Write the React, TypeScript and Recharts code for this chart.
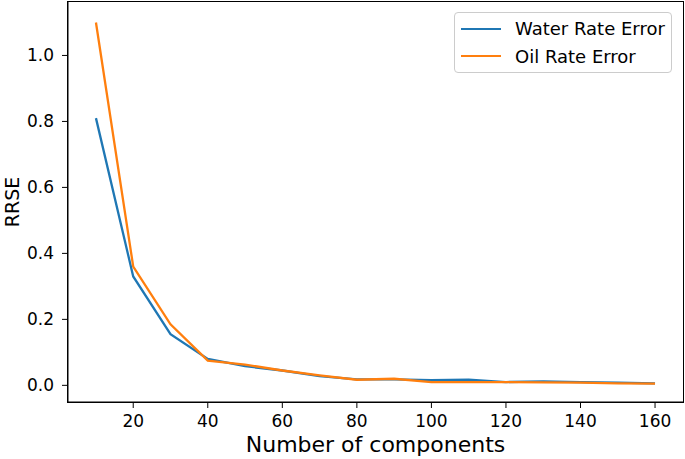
import { LineChart, Line, XAxis, YAxis } from 'recharts'

const components = [10, 20, 30, 40, 50, 60, 70, 80, 90, 100, 110, 120, 130, 140, 150, 160]
const waterRateError = [0.81, 0.33, 0.155, 0.08, 0.058, 0.045, 0.028, 0.018, 0.018, 0.016, 0.017, 0.01, 0.012, 0.01, 0.008, 0.006]
const oilRateError = [1.1, 0.36, 0.185, 0.075, 0.063, 0.045, 0.03, 0.017, 0.02, 0.01, 0.01, 0.01, 0.009, 0.008, 0.006, 0.005]
const xTicks = [20, 40, 60, 80, 100, 120, 140, 160]
const yTicks = [0, 0.2, 0.4, 0.6, 0.8, 1.0]

const series = [
  { key: 'water', name: 'Water Rate Error', color: '#1f77b4' },
  { key: 'oil', name: 'Oil Rate Error', color: '#ff7f0e' },
]

const data = components.map((n, i) => ({ n, water: waterRateError[i], oil: oilRateError[i] }))

const font = 'DejaVu Sans, sans-serif'
const tickStyle = { fill: '#000', fontSize: 17, fontFamily: font }

function YLabel(props: any) {
  const vb = props.viewBox || { y: 0, height: 0 }
  const cy = vb.y + vb.height / 2
  return (
    <text x={12} y={cy} transform={`rotate(-90 12 ${cy})`} textAnchor="middle" dominantBaseline="central" fill="#000" fontSize={19} fontFamily={font}>
      RRSE
    </text>
  )
}

export default function App() {
  return (
    <div style={{ position: 'absolute', left: 0, top: 0, width: 685, height: 459, background: '#fff' }}>
      <LineChart width={685} height={459} data={data} margin={{ top: 2, right: 2, left: 0, bottom: 0 }}>
        <XAxis
          dataKey="n"
          type="number"
          domain={[2.5, 167.5]}
          ticks={xTicks}
          tick={tickStyle}
          tickSize={6}
          tickMargin={7}
          height={57}
          stroke="#000"
          label={{ value: 'Number of components', position: 'insideBottom', offset: 7, style: { fill: '#000', fontSize: 22, fontFamily: font } }}
        />
        <YAxis
          type="number"
          domain={[-0.0505, 1.162]}
          ticks={yTicks}
          tickFormatter={(v: number) => v.toFixed(1)}
          tick={tickStyle}
          tickSize={6}
          tickMargin={8}
          width={68}
          stroke="#000"
          allowDataOverflow
          label={<YLabel />}
        />
        {series.map((s) => (
          <Line
            key={s.key}
            dataKey={s.key}
            name={s.name}
            stroke={s.color}
            strokeWidth={2.3}
            dot={false}
            type="linear"
            isAnimationActive={false}
          />
        ))}
      </LineChart>
      <div
        style={{
          position: 'absolute',
          left: 67,
          top: 1,
          width: 617,
          height: 402,
          border: '1px solid #000',
          boxSizing: 'border-box',
          pointerEvents: 'none',
        }}
      />
      <div
        style={{
          position: 'absolute',
          left: 454,
          top: 12,
          border: '1px solid #ccc',
          borderRadius: 4,
          background: '#fff',
          padding: '2px 6px 2px 6px',
          fontFamily: font,
          fontSize: 18,
          color: '#000',
        }}
      >
        {series.map((s) => (
          <div key={s.key} style={{ display: 'flex', alignItems: 'center', height: 27.5 }}>
            <span style={{ width: 40, height: 2, background: s.color, display: 'inline-block', marginRight: 14 }} />
            {s.name}
          </div>
        ))}
      </div>
    </div>
  )
}
